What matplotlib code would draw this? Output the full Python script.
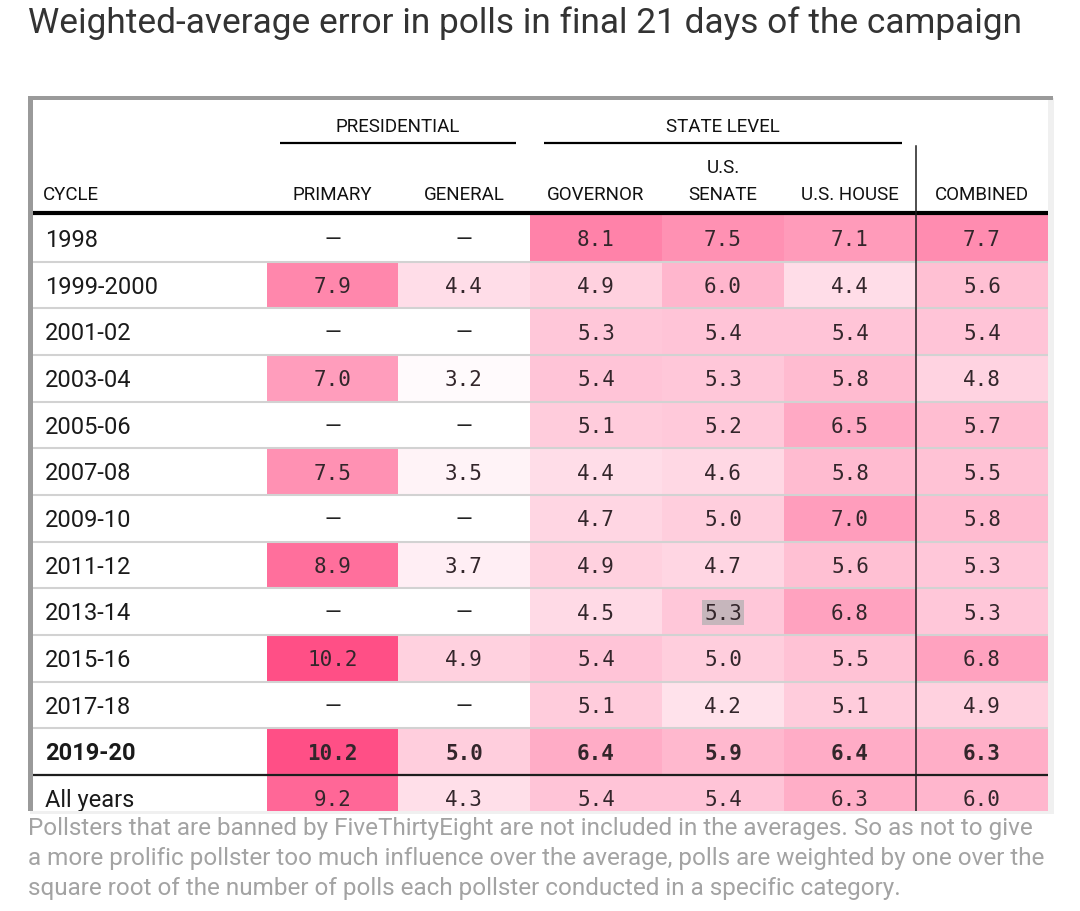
import numpy as np
import matplotlib
matplotlib.use("Agg")
import matplotlib.pyplot as plt
from matplotlib.colors import LinearSegmentedColormap
from matplotlib.patches import Rectangle

# ---- data ----
cycles = ["1998", "1999-2000", "2001-02", "2003-04", "2005-06", "2007-08",
          "2009-10", "2011-12", "2013-14", "2015-16", "2017-18", "2019-20",
          "All years"]
primary = [None, 7.9, None, 7.0, None, 7.5, None, 8.9, None, 10.2, None, 10.2, 9.2]
general = [None, 4.4, None, 3.2, None, 3.5, None, 3.7, None, 4.9, None, 5.0, 4.3]
governor = [8.1, 4.9, 5.3, 5.4, 5.1, 4.4, 4.7, 4.9, 4.5, 5.4, 5.1, 6.4, 5.4]
senate = [7.5, 6.0, 5.4, 5.3, 5.2, 4.6, 5.0, 4.7, 5.3, 5.0, 4.2, 5.9, 5.4]
house = [7.1, 4.4, 5.4, 5.8, 6.5, 5.8, 7.0, 5.6, 6.8, 5.5, 5.1, 6.4, 6.3]
combined = [7.7, 5.6, 5.4, 4.8, 5.7, 5.5, 5.8, 5.3, 5.3, 6.8, 4.9, 6.3, 6.0]

col_labels = ["PRIMARY", "GENERAL", "GOVERNOR", "SENATE", "U.S. HOUSE", "COMBINED"]
groups = ["PRESIDENTIAL", "STATE LEVEL"]

title = "Weighted-average error in polls in final 21 days of the campaign"
note = ["Pollsters that are banned by FiveThirtyEight are not included in the averages. So as not to give",
        "a more prolific pollster too much influence over the average, polls are weighted by one over the",
        "square root of the number of polls each pollster conducted in a specific category."]

# ---- layout (pixels) ----
W, H = 1080, 912
col_edges = np.array([267, 398, 530, 662, 784, 916, 1048])
row_top = 216
row_h = 46.67
row_edges = row_top + row_h * np.arange(len(cycles) + 1)
tab_left, tab_right, tab_top, tab_bottom = 33, 1048, 101, 812

cmap = LinearSegmentedColormap.from_list("pinks", ["#ffffff", "#ff4f86"])
vmin, vmax = 3.0, 10.2

lab_font = "Roboto"
num_font = "DejaVu Sans Mono"
hdr_size = 13.5

fig = plt.figure(figsize=(W / 100, H / 100), dpi=100)
fig.patch.set_facecolor("white")

# full figure axes for title, frame and footnote
ax = fig.add_axes([0, 0, 1, 1])
ax.set_xlim(0, W)
ax.set_ylim(H, 0)
ax.axis("off")

ax.text(28, 23, title, fontsize=25.4, family=lab_font, color="#333333",
        va="center", ha="left")

# outer frame: faint shadow, gray border on top and left only
ax.add_patch(Rectangle((30, 99), 1024, 716, fc="#f0f0f0", ec="none"))
ax.add_patch(Rectangle((28, 97), 1025, 4, fc="#9a9a9a", ec="none"))
ax.add_patch(Rectangle((28, 97), 5, 715, fc="#9a9a9a", ec="none"))

for i, line in enumerate(note):
    ax.text(28, 829 + 30 * i, line, fontsize=17.5, family=lab_font,
            color="#a3a3a3", va="center", ha="left")

# table axes, clipped to the visible area
tab = fig.add_axes([tab_left / W, (H - tab_bottom) / H,
                    (tab_right - tab_left) / W, (tab_bottom - tab_top) / H])
tab.set_xlim(tab_left, tab_right)
tab.set_ylim(tab_bottom, tab_top)
tab.axis("off")
tab.add_patch(Rectangle((tab_left, tab_top), tab_right - tab_left,
                        tab_bottom - tab_top, fc="white", ec="none", zorder=0))

series = [primary, general, governor, senate, house, combined]
vals = np.array([[np.nan if v is None else v for v in s] for s in series]).T
masked = np.ma.masked_invalid(vals)
tab.pcolormesh(col_edges, row_edges, masked, cmap=cmap, vmin=vmin, vmax=vmax,
               shading="flat", zorder=1)

# row separators
for y in row_edges[1:-1]:
    tab.plot([tab_left, tab_right], [y, y], color="#d2d2d2", lw=1.5, zorder=2,
             solid_capstyle="butt")
# thick header rule and line above "All years"
tab.plot([tab_left, tab_right], [row_edges[0] - 2, row_edges[0] - 2],
         color="black", lw=3, zorder=3, solid_capstyle="butt")
tab.plot([tab_left, tab_right], [row_edges[-2], row_edges[-2]],
         color="#1e1e1e", lw=1.6, zorder=3, solid_capstyle="butt")
# vertical divider before COMBINED
tab.plot([col_edges[5], col_edges[5]], [147, tab_bottom], color="#1e1e1e",
         lw=1.1, zorder=3)

# group headers
grp_spans = [(280, 516), (544, 902)]
for name, (x0, x1) in zip(groups, grp_spans):
    tab.text((x0 + x1) / 2, 127, name, fontsize=hdr_size, family=lab_font,
             color="#111111", ha="center", va="center")
    tab.plot([x0, x1], [144, 144], color="black", lw=1.6, solid_capstyle="butt")

# column headers
centers = (col_edges[:-1] + col_edges[1:]) / 2
tab.text(43, 195, "CYCLE", fontsize=hdr_size, family=lab_font, color="#111111",
         ha="left", va="center")
for cx, lab in zip(centers, col_labels):
    tab.text(cx, 195, lab, fontsize=hdr_size, family=lab_font, color="#111111",
             ha="center", va="center")
tab.text(centers[3], 168, "U.S.", fontsize=hdr_size, family=lab_font,
         color="#111111", ha="center", va="center")

# row labels and cell values
for i, cyc in enumerate(cycles):
    cy = (row_edges[i] + row_edges[i + 1]) / 2 + 1
    if i == len(cycles) - 1:
        cy = row_edges[i] + 24
    bold = cyc == "2019-20"
    tab.text(45, cy, cyc, fontsize=17, family=lab_font, color="#1a1a1a",
             ha="left", va="center", fontweight="bold" if bold else "normal",
             clip_on=True, zorder=4)
    for j in range(len(series)):
        v = vals[i, j]
        if np.isnan(v):
            tab.text(centers[j], cy, "\u2014", fontsize=15.5, family=lab_font,
                     color="#222222", ha="center", va="center", zorder=4)
            continue
        kw = {}
        if cyc == "2013-14" and j == 3:
            kw["bbox"] = dict(boxstyle="square,pad=0.12", fc="#c6b6bc", ec="none")
        tab.text(centers[j], cy, f"{v:.1f}", fontsize=15, family=num_font,
                 color="#33262b", ha="center", va="center",
                 fontweight="bold" if bold else "normal", clip_on=True,
                 zorder=4, **kw)

fig.savefig("out.png", dpi=100)
